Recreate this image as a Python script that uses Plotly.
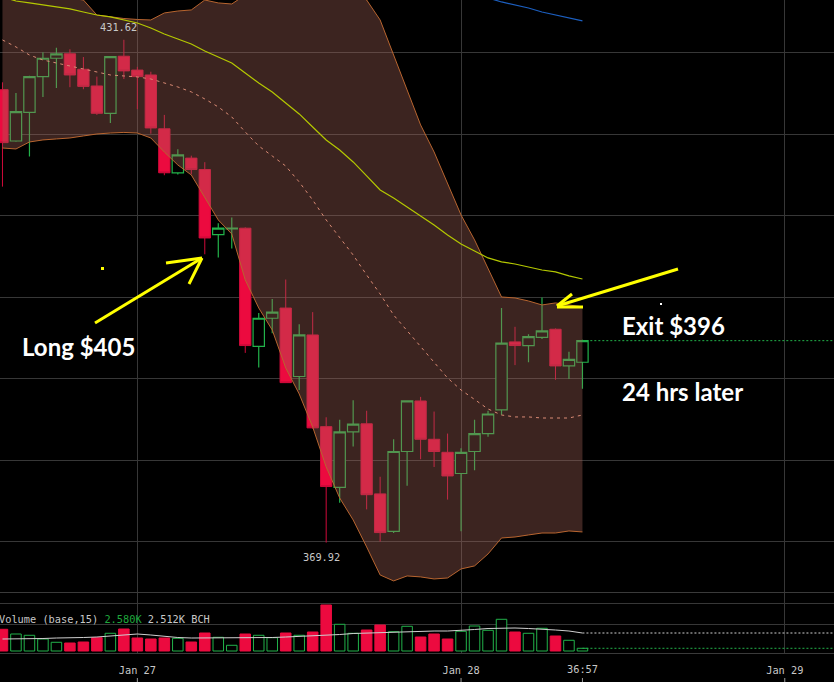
import plotly.graph_objects as go
from plotly.subplots import make_subplots
import pandas as pd

# hourly BCH candles, Jan 26 14:00 -> Jan 28 09:00
times = pd.date_range('2020-01-26 14:00', periods=44, freq='h')

opens = [425.5, 419.2, 422.7, 427.1, 429.35, 429.9, 428.0, 425.95, 422.6, 429.6,
         427.9, 427.3, 420.7, 415.3, 417.1, 415.7, 407.7, 408.4, 408.5, 394.0,
         397.45, 398.7, 390.3, 395.4, 384.15, 376.7, 383.5, 384.5, 375.9, 371.3,
         381.1, 387.3, 382.6, 381.0, 378.4, 381.1, 383.3, 386.2, 394.55, 394.1,
         395.1, 396.1, 391.6, 392.05]
highs = [426.4, 425.1, 427.2, 430.1, 430.65, 430.45, 429.5, 427.1, 429.6, 431.62,
         428.3, 427.7, 422.4, 418.2, 417.4, 416.6, 409.1, 409.8, 408.6, 398.1,
         399.8, 402.2, 396.7, 398.2, 385.3, 385.0, 387.4, 386.1, 378.0, 382.6,
         387.35, 387.8, 386.0, 383.3, 381.5, 385.0, 386.1, 398.7, 396.4, 395.5,
         400.0, 396.2, 393.35, 394.8]
lows = [413.6, 419.1, 417.3, 424.6, 425.7, 425.8, 425.55, 422.4, 421.4, 426.8,
        423.1, 420.1, 415.0, 415.1, 415.1, 405.3, 404.9, 406.0, 393.2, 391.4,
        395.6, 389.5, 388.65, 383.9, 369.92, 374.8, 381.7, 374.0, 370.05, 371.1,
        376.9, 380.15, 379.2, 375.2, 371.3, 378.8, 382.9, 385.6, 391.7, 392.05,
        394.9, 389.9, 390.0, 388.8]
closes = [419.0, 422.8, 427.1, 429.35, 429.9, 427.3, 425.9, 422.6, 429.55, 427.8,
          427.1, 420.8, 415.3, 417.5, 415.7, 407.3, 408.5, 408.5, 394.1, 397.45,
          398.2, 389.55, 395.4, 384.0, 376.8, 383.5, 384.45, 375.8, 371.15, 381.1,
          387.3, 382.6, 381.1, 378.1, 381.0, 383.3, 385.7, 394.4, 394.1, 395.2,
          395.9, 391.6, 392.4, 394.7]

# bollinger bands
bb_upper = [438.95, 438.34, 437.73, 437.24, 436.99, 436.75, 436.5, 434.66, 434.42, 434.23,
            434.11, 434.05, 434.91, 435.15, 435.28, 436.5, 436.14, 436.01, 437.12, 438.34,
            439.2, 439.94, 440.18, 439.94, 439.2, 438.22, 437.24, 436.5, 434.05, 429.75,
            425.46, 421.17, 417.85, 414.05, 410.12, 407.06, 403.62, 400.06, 399.94, 399.57,
            399.08, 399.33, 399.08, 398.84]
bb_middle = [431.6, 430.74, 429.75, 429.14, 428.77, 428.4, 428.04, 427.67, 427.3, 427.18,
             427.06, 426.81, 426.32, 425.83, 425.22, 424.36, 423.38, 422.15, 420.31, 418.59,
             417.36, 416.13, 414.17, 411.96, 409.51, 407.42, 405.21, 402.76, 400.43, 397.85,
             395.89, 393.93, 391.96, 390.12, 388.65, 387.43, 386.32, 385.58, 385.34, 385.34,
             385.21, 385.21, 385.21, 385.58]
bb_lower = [418.34, 418.22, 419.08, 419.33, 419.45, 419.57, 419.82, 420.06, 420.18, 420.25,
            420.18, 419.57, 417.85, 416.26, 415.03, 412.21, 409.51, 407.79, 402.15, 398.71,
            396.01, 391.35, 388.16, 384.11, 379.2, 375.4, 372.7, 369.39, 365.95, 365.22,
            365.83, 365.71, 365.46, 365.58, 366.69, 367.06, 368.53, 370.49, 370.61, 370.86,
            371.1, 371.1, 371.35, 371.23]

# moving averages
ma_yellow = [436.87, 436.38, 436.14, 435.89, 435.64, 435.4, 435.03, 434.66, 434.42, 434.05,
             433.68, 433.07, 432.33, 431.72, 431.1, 430.25, 429.51, 428.77, 427.55, 426.32,
             425.22, 423.86, 422.52, 420.92, 419.33, 418.1, 416.63, 414.91, 413.19, 412.21,
             411.1, 410.0, 408.9, 407.67, 406.56, 405.7, 404.85, 404.36, 404.11, 403.74,
             403.37, 403.13, 402.64, 402.27]
ma_blue = [437.49, 436.75, 436.26, 435.89, 435.52, 435.03, 434.66, 434.3, 433.93]

# volume in thousands of BCH
volume = [3.04, 2.38, 2.2, 1.68, 1.22, 1.12, 1.26, 1.86, 2.48, 3.08,
          1.82, 1.68, 1.82, 1.78, 1.26, 2.52, 1.92, 0.8, 2.38, 2.2,
          1.86, 2.52, 2.2, 2.66, 6.44, 3.74, 2.48, 2.94, 3.64, 2.7,
          3.46, 1.96, 2.38, 1.68, 2.76, 3.5, 2.9, 4.44, 2.66, 2.48,
          3.18, 2.1, 1.5, 0.38]
volume_ma = [1.68, 1.68, 1.75, 1.75, 1.82, 1.82, 1.89, 1.96, 2.1, 2.24,
             2.38, 2.24, 2.03, 1.89, 1.82, 1.82, 1.82, 1.82, 1.82, 1.82,
             1.89, 1.96, 2.03, 2.1, 2.24, 2.31, 2.45, 2.52, 2.59, 2.66,
             2.73, 2.8, 2.8, 2.8, 2.87, 3.01, 3.15, 3.22, 3.22, 3.15,
             3.08, 2.94, 2.8, 2.52]

day_ticks = ['2020-01-27', '2020-01-28', '2020-01-29']
day_labels = ['Jan 27', 'Jan 28', 'Jan 29']
x_range = ['2020-01-26 13:49', '2020-01-29 03:39']

RED = '#ec0a3f'
RED_WICK = '#d00a3a'
GREEN = '#22b24a'
BAND = '#b8652f'
GRID = '#373737'
TXT = '#c8c8c8'

W, H_PLOT = 834, 653


def px(x):
    return x / W


def py(y):
    return (H_PLOT - y) / H_PLOT


fig = make_subplots(rows=2, cols=1, shared_xaxes=True)

# band fill
fig.add_trace(go.Scatter(x=times, y=bb_upper, mode='lines',
                         line=dict(color=BAND, width=1), hoverinfo='skip'), row=1, col=1)
fig.add_trace(go.Scatter(x=times, y=bb_lower, mode='lines', fill='tonexty',
                         fillcolor='rgba(167,100,89,0.36)',
                         line=dict(color=BAND, width=1), hoverinfo='skip'), row=1, col=1)
fig.add_trace(go.Scatter(x=times, y=bb_middle, mode='lines',
                         line=dict(color='#d98a74', width=1, dash='3px,4px'),
                         hoverinfo='skip'), row=1, col=1)
fig.add_trace(go.Scatter(x=times, y=ma_yellow, mode='lines',
                         line=dict(color='#b4c800', width=1.2), hoverinfo='skip'), row=1, col=1)
fig.add_trace(go.Scatter(x=times[-len(ma_blue):], y=ma_blue, mode='lines',
                         line=dict(color='#1c5fc0', width=1.2), hoverinfo='skip'), row=1, col=1)

fig.add_trace(go.Candlestick(
    x=times, open=opens, high=highs, low=lows, close=closes,
    increasing=dict(line=dict(color=GREEN, width=1.2), fillcolor='black'),
    decreasing=dict(line=dict(color=RED_WICK, width=1), fillcolor=RED),
    whiskerwidth=0, hoverinfo='skip'), row=1, col=1)

# volume
up = [c >= o for o, c in zip(opens, closes)]
fig.add_trace(go.Bar(
    x=times, y=volume,
    marker=dict(color=['black' if u else RED for u in up],
                line=dict(color=[GREEN if u else RED for u in up], width=1)),
    hoverinfo='skip'), row=2, col=1)
fig.add_trace(go.Scatter(x=times, y=volume_ma, mode='lines',
                         line=dict(color='#d0d0d0', width=1), hoverinfo='skip'), row=2, col=1)

axis_common = dict(range=x_range, tickvals=day_ticks, showgrid=True, gridcolor=GRID,
                   zeroline=False, rangeslider=dict(visible=False))

fig.update_layout(
    width=834, height=682,
    margin=dict(l=0, r=0, t=0, b=29),
    paper_bgcolor='black', plot_bgcolor='black',
    showlegend=False,
    boxgap=0.16, boxgroupgap=0, bargap=0.22,
    xaxis=dict(**axis_common, showticklabels=False),
    xaxis2=dict(**axis_common, ticktext=day_labels,
                tickfont=dict(family='DejaVu Sans Mono', size=10.3, color=TXT),
                ticks='outside', ticklen=8, tickcolor='rgba(0,0,0,0)',
                showline=True, mirror=True, linecolor='#3a3a3a'),
    yaxis=dict(domain=[61 / H_PLOT, 1], range=[363.86, 436.5], dtick=10, tick0=0,
               showticklabels=False, gridcolor=GRID, zeroline=False),
    yaxis2=dict(domain=[0, 60 / H_PLOT], range=[-0.28, 8.12], tickvals=[3.78, 6.72],
                showticklabels=False, gridcolor=GRID, zeroline=False),
)

# current price / volume lines
last_t = times[-1]
fig.add_shape(type='line', xref='x', yref='y', x0=last_t + pd.Timedelta(minutes=35), x1=x_range[1],
              y0=closes[-1], y1=closes[-1], line=dict(color=GREEN, width=1, dash='2px,2px'))
fig.add_shape(type='line', xref='x2', yref='y2', x0=last_t, x1=x_range[1],
              y0=volume_ma[-1], y1=volume_ma[-1], line=dict(color='#d0d0d0', width=1, dash='2px,2px'))
fig.add_shape(type='line', xref='x2', yref='y2', x0=last_t, x1=x_range[1],
              y0=volume[-1], y1=volume[-1], line=dict(color=GREEN, width=1, dash='2px,2px'))

# small tick marks under the date labels
for t in day_ticks + [last_t]:
    fig.add_shape(type='line', xref='x2', yref='paper', x0=t, x1=t, y0=py(678), y1=py(682),
                  line=dict(color='#9a9a9a', width=1))

# high / low labels
hi_i = highs.index(max(highs))
lo_i = lows.index(min(lows))
fig.add_annotation(x=times[hi_i], y=highs[hi_i], text=f'{highs[hi_i]:.2f}', showarrow=False,
                   yshift=13, xshift=-5, font=dict(family='DejaVu Sans Mono', size=10.3, color=TXT))
fig.add_annotation(x=times[lo_i], y=lows[lo_i], text=f'{lows[lo_i]:.2f}', showarrow=False,
                   yshift=-14, xshift=-5, font=dict(family='DejaVu Sans Mono', size=10.3, color=TXT))

# countdown label under last candle
fig.add_annotation(x=last_t, xref='x2', y=py(669), yref='paper', yanchor='middle',
                   text='36:57', showarrow=False,
                   font=dict(family='DejaVu Sans Mono', size=10.3, color=TXT))

# volume legend (starts just off the left edge, as on the exchange chart)
fig.add_annotation(x=px(-3), y=py(619), xref='paper', yref='paper', xanchor='left',
                   yanchor='middle', showarrow=False, align='left',
                   text=('Volume (base,15) <span style="color:#1fa83c">2.580K</span> 2.512K BCH'),
                   font=dict(family='DejaVu Sans Mono', size=10.3, color=TXT))

# trade notes
note_font = dict(family='Lato', size=24, color='white', weight='bold')
for txt, x, y in [('Long $405', 20, 346), ('Exit $396', 620, 325), ('24 hrs later', 620, 391)]:
    fig.add_annotation(x=px(x), y=py(y), xref='paper', yref='paper', xanchor='left',
                       yanchor='middle', text=txt, showarrow=False, font=note_font)

# hand drawn yellow arrows
YEL = '#ffff00'
strokes = [
    ((95, 323), (202, 258)), ((166, 263), (202, 258)), ((202, 258), (189, 284)),
    ((678, 269), (557, 306)), ((572, 294), (557, 306)), ((557, 307), (583, 307)),
]
for (x0, y0), (x1, y1) in strokes:
    fig.add_shape(type='line', xref='paper', yref='paper',
                  x0=px(x0), y0=py(y0), x1=px(x1), y1=py(y1),
                  line=dict(color=YEL, width=3))
fig.add_shape(type='rect', xref='paper', yref='paper', x0=px(101), x1=px(104),
              y0=py(270), y1=py(267), fillcolor=YEL, line=dict(width=0))
fig.add_shape(type='rect', xref='paper', yref='paper', x0=px(660), x1=px(662),
              y0=py(305), y1=py(303), fillcolor='white', line=dict(width=0))

# drop the default 8px page margin so the chart fills the window
fig.write_html("out.html", config={'displayModeBar': False},
               post_script="document.body.style.margin='0';")
